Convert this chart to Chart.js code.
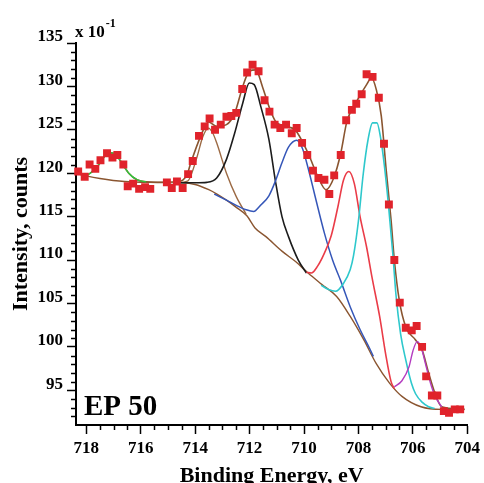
<!DOCTYPE html>
<html>
<head>
<meta charset="utf-8">
<script src="https://cdn.jsdelivr.net/npm/chart.js@4.4.1/dist/chart.umd.min.js"></script>
<style>
html,body{margin:0;padding:0;background:#fff;}
#wrap{width:484px;height:483px;}
</style>
</head>
<body>
<div id="wrap"><canvas id="c" width="484" height="483"></canvas></div>
<script>
// ---- data ----
const xTickLabels = [718,716,714,712,710,708,706,704];
const yTickLabels = [95,100,105,110,115,120,125,130,135];

const pointsX = [718.30,718.06,717.88,717.67,717.48,717.24,717.04,716.86,716.64,716.48,716.28,716.06,715.84,715.65,715.04,714.86,714.67,714.46,714.26,714.09,713.86,713.65,713.47,713.27,713.06,712.85,712.67,712.49,712.27,712.09,711.89,711.67,711.45,711.27,711.08,710.87,710.66,710.45,710.27,710.07,709.88,709.67,709.47,709.25,709.07,708.89,708.65,708.45,708.24,708.08,707.88,707.70,707.48,707.25,707.06,706.88,706.68,706.48,706.26,706.04,705.86,705.66,705.51,705.30,705.10,704.86,704.67,704.46,704.26];
const pointsY = [120.2,119.6,121.0,120.5,121.5,122.3,121.8,122.1,121.0,118.5,118.8,118.2,118.4,118.2,118.95,118.3,119.05,118.3,119.9,121.4,124.3,125.4,126.3,125.0,125.6,126.5,126.6,126.95,129.7,131.6,132.5,131.75,128.4,127.1,125.6,125.2,125.6,124.6,125.2,123.5,122.1,120.3,119.45,119.25,117.6,119.75,122.1,126.1,127.3,128.0,129.1,131.4,131.1,128.7,123.4,116.4,110.0,105.1,102.2,101.9,102.4,100.0,96.6,94.4,94.4,92.6,92.4,92.8,92.8];

const envX = [718.38,718.05,717.64,717.28,717.1,716.9,716.74,716.44,716.14,715.8,715.2,714.64,714.3,714.17,713.8,713.51,713.21,712.85,712.55,712.25,712.01,711.77,711.53,711.29,711.05,710.69,710.33,709.85,709.49,709.19,708.89,708.65,708.42,708.06,707.7,707.52,707.34,707.16,706.98,706.8,706.68,706.5,706.26,705.9,705.66,705.42,705.18,704.94,704.5,704.1];
const envY = [120.0,119.75,120.6,122.1,122.35,122.1,121.4,120.0,119.25,119.0,118.95,119.0,119.8,121.1,124.25,125.9,125.4,125.6,126.9,130.0,131.75,131.9,130.0,127.7,126.0,125.4,125.0,122.3,119.6,118.1,119.6,122.3,126.0,128.3,130.2,131.0,129.6,126.6,120.4,114.6,110.0,105.4,102.3,100.8,99.65,97.0,94.6,93.1,92.9,92.8];

const bgX = [718.38,718.0,717.5,716.6,715.5,714.5,714.0,713.5,713.2,712.85,712.5,712.1,711.8,711.4,710.8,710.3,709.85,709.35,708.8,708.3,707.8,707.35,706.85,706.4,705.7,704.95,704.1];
const bgY = [120.0,119.7,119.4,119.05,118.95,118.9,118.7,118.1,117.6,116.9,116.1,115.1,113.7,112.7,111.0,109.8,108.5,107.2,105.8,103.5,100.8,98.1,95.8,94.3,93.1,92.8,92.8];

const greenX = [718.05,717.85,717.64,717.45,717.28,717.1,716.95,716.74,716.44,716.14,715.8];
const greenY = [119.7,120.0,120.6,121.4,122.1,122.35,122.2,121.4,120.0,119.25,119.0];

const brownX = [715.0,714.64,714.28,713.93,713.72,713.51,713.35,713.21,712.85,712.49,712.13];
const brownY = [118.95,118.95,119.1,121.9,124.2,125.2,124.6,123.5,120.0,117.3,115.3];

const blackX = [714.6,714.0,713.57,713.21,712.85,712.55,712.25,712.01,711.83,711.59,711.29,711.05,710.81,710.57,710.21,709.91];
const blackY = [118.9,118.9,118.95,119.45,121.6,124.6,128.1,130.4,130.2,127.7,123.9,119.1,115.0,112.7,110.0,108.5];

const blueX = [713.3,712.85,712.49,712.13,711.85,711.6,711.29,711.05,710.81,710.57,710.27,710.05,709.85,709.55,709.25,708.95,708.65,708.3,707.94,707.6,707.45];
const blueY = [117.6,116.9,116.3,115.8,115.6,116.3,117.4,119.1,121.2,123.0,123.8,122.8,120.6,116.8,113.1,110.0,107.6,104.6,102.0,99.9,98.9];

const redX = [709.91,709.73,709.5,709.25,709.0,708.75,708.55,708.35,708.15,707.94,707.7,707.5,707.22,707.0,706.8,706.68];
const redY = [108.6,108.5,109.3,110.8,112.8,116.2,119.2,120.2,118.8,115.0,111.5,108.0,103.5,99.2,96.0,95.2];

const cyanX = [709.37,709.1,708.84,708.55,708.3,708.18,708.0,707.82,707.65,707.48,707.32,707.18,707.05,706.9,706.73,706.62,706.45,706.26,706.05,705.9,705.65,705.42,705.2];
const cyanY = [107.1,106.6,106.4,107.3,108.9,110.5,114.5,120.0,123.8,125.8,125.8,124.0,121.0,116.5,110.5,106.0,101.5,98.5,95.8,94.6,93.6,93.1,92.9];

const magX = [706.68,706.4,706.14,706.0,705.84,705.7,705.54,705.35,705.18,704.94];
const magY = [95.4,96.1,97.7,99.5,100.6,100.0,98.1,95.8,94.3,93.1];

// ---- helpers ----
const pts = (xs, ys) => xs.map((x, i) => ({x: x, y: ys[i]}));
const line = (xs, ys, color, w) => ({
  type: 'line', data: pts(xs, ys), borderColor: color, borderWidth: w,
  pointRadius: 0, fill: false, cubicInterpolationMode: 'monotone'
});

const serif = "'Liberation Serif', 'Times New Roman', serif";

const extras = {
  id: 'extras',
  afterDraw(chart) {
    const ctx = chart.ctx;
    const xs = chart.scales.x, ys = chart.scales.y;
    ctx.save();
    ctx.strokeStyle = '#000';
    ctx.lineWidth = 1.5;
    // minor ticks x
    for (let v = 704; v <= 718.001; v += 0.5) {
      if (Math.abs(v % 2) < 1e-6) continue;
      const px = Math.round(xs.getPixelForValue(v)) + 0.5;
      ctx.beginPath(); ctx.moveTo(px, ys.bottom); ctx.lineTo(px, ys.bottom + 5); ctx.stroke();
    }
    // minor ticks y
    for (let v = 92; v <= 135; v += 1) {
      if (v % 5 === 0) continue;
      const py = Math.round(ys.getPixelForValue(v)) + 0.5;
      ctx.beginPath(); ctx.moveTo(xs.left, py); ctx.lineTo(xs.left - 5, py); ctx.stroke();
    }
    // exponent label
    ctx.fillStyle = '#000';
    ctx.textBaseline = 'alphabetic';
    ctx.textAlign = 'left';
    ctx.font = 'bold 17px ' + serif;
    ctx.fillText('x 10', 75, 37);
    const w = ctx.measureText('x 10').width;
    ctx.font = 'bold 12px ' + serif;
    ctx.fillText('-1', 75 + w + 1, 27);
    // sample label
    ctx.font = 'bold 29px ' + serif;
    ctx.fillText('EP 50', 84, 415);
    ctx.restore();
  }
};

new Chart(document.getElementById('c'), {
  type: 'scatter',
  data: {
    datasets: [
      {
        type: 'scatter', data: pts(pointsX, pointsY), pointStyle: 'rect',
        pointRadius: 5.6, pointBackgroundColor: '#e0232b', pointBorderWidth: 0,
        borderColor: '#e0232b', clip: 8
      },
      line(magX, magY, '#b43cc0', 1.4),
      line(cyanX, cyanY, '#2ec8cc', 1.6),
      line(redX, redY, '#ea3c48', 1.6),
      line(blueX, blueY, '#3556b8', 1.5),
      line(blackX, blackY, '#1c1c1c', 1.6),
      line(brownX, brownY, '#9c6a44', 1.4),
      line(greenX, greenY, '#2fc83c', 1.4),
      line(envX, envY, '#8a5530', 1.6),
      line(bgX, bgY, '#8a5530', 1.4)
    ]
  },
  options: {
    responsive: false,
    animation: false,
    events: [],
    layout: {padding: {top: 43, right: 9, left: 0, bottom: 0}},
    plugins: {legend: {display: false}, tooltip: {enabled: false}},
    scales: {
      x: {
        type: 'linear', min: 704, max: 718.38, reverse: true,
        afterBuildTicks: s => { s.ticks = xTickLabels.map(v => ({value: v})); },
        afterFit: s => { s.height = 58; },
        border: {color: '#000', width: 2},
        grid: {drawOnChartArea: false, drawTicks: true, tickLength: 9, tickColor: '#000', tickWidth: 1.5},
        ticks: {color: '#000', font: {family: serif, size: 17, weight: 'bold'}, padding: 4, maxRotation: 0, autoSkip: false},
        title: {display: true, text: 'Binding Energy, eV', color: '#000',
          font: {family: serif, size: 22, weight: 'bold'}, padding: {top: 0, bottom: -7}}
      },
      y: {
        type: 'linear', min: 91, max: 135,
        afterBuildTicks: s => { s.ticks = yTickLabels.map(v => ({value: v})); },
        afterFit: s => { s.width = 76; },
        border: {color: '#000', width: 2},
        grid: {drawOnChartArea: false, drawTicks: true, tickLength: 9, tickColor: '#000', tickWidth: 1.5},
        ticks: {color: '#000', font: {family: serif, size: 17, weight: 'bold'}, padding: 4, labelOffset: -6, autoSkip: false},
        title: {display: true, text: 'Intensity, counts', color: '#000',
          font: {family: serif, size: 22, weight: 'bold'}, padding: {top: 8, bottom: 0}}
      }
    }
  },
  plugins: [extras]
});
</script>
</body>
</html>
